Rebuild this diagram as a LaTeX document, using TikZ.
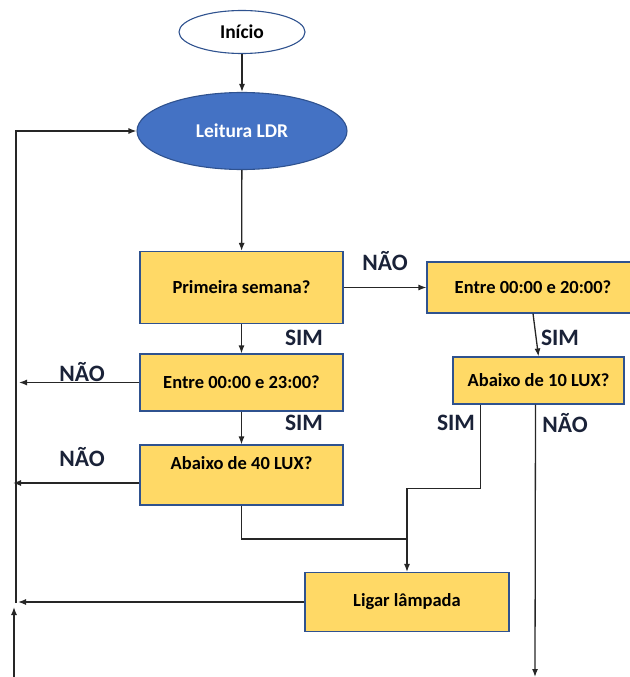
\documentclass[tikz,border=0pt]{standalone}
\usepackage{fontspec}
\setmainfont{Carlito}
\usetikzlibrary{shapes.geometric,arrows.meta}
\definecolor{boxfill}{HTML}{FFD966}
\definecolor{boxline}{HTML}{2F528F}
\definecolor{ldrfill}{HTML}{4472C4}
\definecolor{lbl}{HTML}{1A2238}
\begin{document}
\begin{tikzpicture}[x=1pt,y=-1pt,
  box/.style={draw=boxline,fill=boxfill,line width=1.1pt,rectangle,inner sep=0pt,
    font=\fontsize{18.5}{21}\selectfont\bfseries,text=black},
  oval/.style={draw=boxline,ellipse,inner sep=0pt,line width=1.1pt},
  arr/.style={line width=1.3pt,draw=black!85,-{Latex[length=8pt,width=6pt]}},
  ln/.style={line width=1.3pt,draw=black!85},
  lab/.style={font=\fontsize{23.5}{26}\selectfont\bfseries,text=lbl,inner sep=0pt}]
\useasboundingbox (0,0) rectangle (629,677);
\node[oval,fill=white,minimum width=126pt,minimum height=43pt,font=\fontsize{19.5}{22}\selectfont\bfseries] (ini) at (242,32) {Início};
\node[oval,fill=ldrfill,minimum width=210pt,minimum height=77pt,text=white,font=\fontsize{19.5}{22}\selectfont\bfseries] (ldr) at (242,131) {Leitura LDR};
\node[box,minimum width=203pt,minimum height=72pt] (p1) at (241.5,287.5) {Primeira semana?};
\node[box,minimum width=212pt,minimum height=51pt] (e20) at (533,287.5) {Entre 00:00 e 20:00?};
\node[box,minimum width=203pt,minimum height=57pt] (e23) at (241.5,382.5) {Entre 00:00 e 23:00?};
\node[box,minimum width=203pt,minimum height=60pt,text height=13pt,text depth=25pt] (a40) at (241.5,475) {Abaixo de 40 LUX?};
\node[box,minimum width=171pt,minimum height=47pt] (a10) at (538.5,380.5) {Abaixo de 10 LUX?};
\node[box,minimum width=204pt,minimum height=59pt] (lig) at (407,602) {Ligar lâmpada};
% labels
\node[lab] (l1) at (385,261) {NÃO};
\node[lab] (l2) at (304,338) {SIM};
\node[lab] (l3) at (82,372) {NÃO};
\node[lab] (l4) at (304,423) {SIM};
\node[lab] (l5) at (82,457) {NÃO};
\node[lab] (l6) at (560,338) {SIM};
\node[lab] (l7) at (456,423) {SIM};
\node[lab] (l8) at (565,423) {NÃO};
% coordinates
\coordinate (n1) at (19,382.5);
\coordinate (n2) at (13,483);
\coordinate (n3) at (18,602);
\coordinate (lb) at (16,603);
\coordinate (ub) at (14,680);
\coordinate (ut) at (14,607);
\coordinate (jn) at (407,539);
\coordinate (nb) at (535,677);
% connectors
\draw[arr] (ini) -- (ldr);
\draw[arr] (ldr) -- (p1);
\draw[arr] (p1) -- (e20);
\draw[arr] (p1) -- (e23);
\draw[arr] (e23) -- (a40);
\draw[arr] (e20.south) -- (a10.north);
\draw[arr] (e23.west) -- (n1);
\draw[arr] ([yshift=-8pt]a40.west) -- (n2);
\draw[arr] (lig) -- (n3);
\draw[arr] (lb) |- (ldr.west);
\draw[arr] (ub) -- (ut);
\draw[arr] ([xshift=-58pt]a10.south) -- ++(0,84) -| (lig.north);
\draw[ln] (a40.south) |- (jn);
\draw[arr] ([xshift=-3pt]a10.south) -- (nb);
\end{tikzpicture}
\end{document}
